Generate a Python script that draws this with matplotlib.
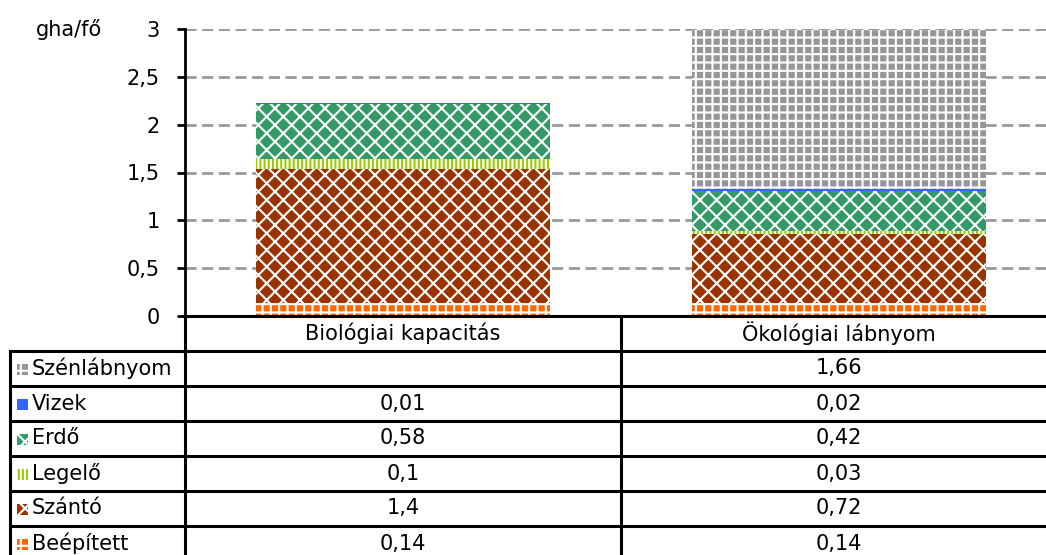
import matplotlib.pyplot as plt
import matplotlib.transforms as mtransforms
from matplotlib.patches import Rectangle
from matplotlib.ticker import FuncFormatter

categories = ["Biológiai kapacitás", "Ökológiai lábnyom"]
series = ["Beépített", "Szántó", "Legelő", "Erdő", "Vizek", "Szénlábnyom"]
beepitett = [0.14, 0.14]
szanto = [1.4, 0.72]
legelo = [0.1, 0.03]
erdo = [0.58, 0.42]
vizek = [0.01, 0.02]
szen = [None, 1.66]
values = [beepitett, szanto, legelo, erdo, vizek, szen]

# face, hatch colour, hatch
styles = {
    "Beépített": ("#FF6600", "white", "++"),
    "Szántó": ("#993300", "white", "xx"),
    "Legelő": ("white", "#99CC00", "||||"),
    "Erdő": ("#339966", "white", "xx"),
    "Vizek": ("#3366FF", "#3366FF", None),
    "Szénlábnyom": ("#969696", "white", "++"),
}

plt.rcParams["font.family"] = "DejaVu Sans"
plt.rcParams["hatch.linewidth"] = 1.5

W, H = 1046, 555
fig = plt.figure(figsize=(W / 100, H / 100), dpi=100)

# pixel geometry
x0, ytop, ybot = 185, 29, 316
colw = 436
ax = fig.add_axes([x0 / W, 1 - ybot / H, 2 * colw / W, (ybot - ytop) / H])

xs = [0, 1]
bottoms = [0.0, 0.0]
for name, vals in zip(series, values):
    face, hc, hatch = styles[name]
    for i, v in enumerate(vals):
        if v is None:
            continue
        ax.bar(xs[i], v, 0.675, bottom=bottoms[i], color=face, edgecolor=hc,
               hatch=hatch, linewidth=0, zorder=3)
        bottoms[i] += v

fs = 15
ax.set_xlim(-0.5, 1.5)
ax.set_ylim(0, 3)
ax.set_yticks([0, 0.5, 1, 1.5, 2, 2.5, 3])
ax.yaxis.set_major_formatter(FuncFormatter(lambda v, p: ("%g" % v).replace(".", ",")))
ax.set_xticks([])
ax.yaxis.grid(True, color="#999999", linestyle=(0, (4, 2)), linewidth=2, zorder=0)
for s in ["top", "right", "bottom"]:
    ax.spines[s].set_visible(False)
ax.spines["left"].set_linewidth(2)
ax.tick_params(axis="y", direction="out", length=6, width=2, pad=12, labelsize=fs)
ax.set_facecolor("none")

# table overlay in pixel coordinates
ov = fig.add_axes([0, 0, 1, 1], zorder=2)
ov.set_xlim(0, W)
ov.set_ylim(H, 0)
ov.axis("off")

ov.text(69, 29, "gha/fő", fontsize=fs, ha="center", va="center")

lw = 2.2
ov.plot([x0 - 1, W], [ybot, ybot], color="black", lw=lw)
row_h = 35
rows_y = [ybot + row_h * (k + 1) for k in range(6)]
for y in rows_y:
    ov.plot([10, W], [y, y], color="black", lw=lw)
ov.plot([10, 10], [rows_y[0], H], color="black", lw=lw)
ov.plot([x0, x0], [ybot, H], color="black", lw=lw)
ov.plot([x0 + colw, x0 + colw], [ybot, H], color="black", lw=lw)

trans = mtransforms.blended_transform_factory(ax.transData, ov.transData)
for i, c in enumerate(categories):
    ov.text(xs[i], ybot + row_h / 2, c, transform=trans, fontsize=fs,
            ha="center", va="center")

for k, name in enumerate(reversed(series)):
    yc = rows_y[k] + row_h / 2
    face, hc, hatch = styles[name]
    ov.add_patch(Rectangle((17, yc - 5), 11, 11, facecolor=face, edgecolor=hc,
                           hatch=hatch, linewidth=0))
    ov.text(32, yc, name, fontsize=fs, ha="left", va="center")
    vals = values[series.index(name)]
    for i, v in enumerate(vals):
        if v is None:
            continue
        ov.text(xs[i], yc, ("%g" % v).replace(".", ","), transform=trans,
                fontsize=fs, ha="center", va="center")

fig.savefig("out.png", dpi=100)
